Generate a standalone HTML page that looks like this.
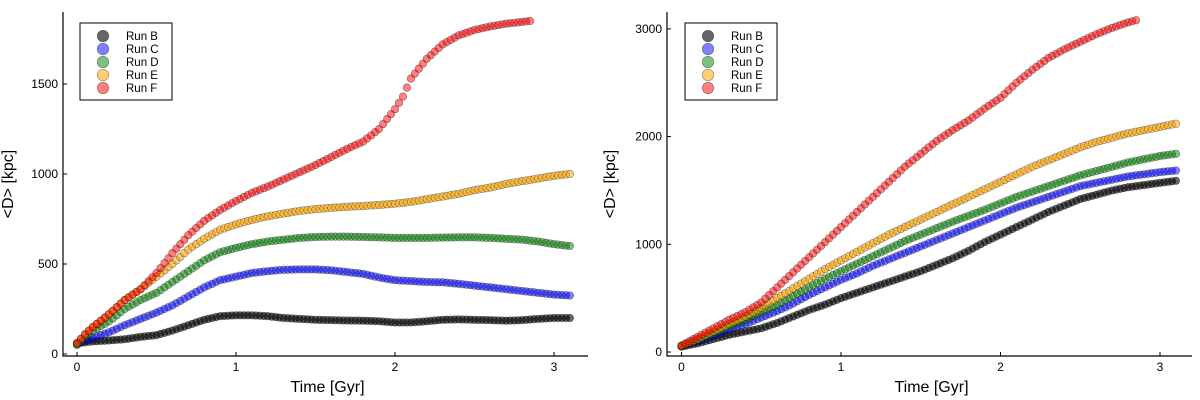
<!DOCTYPE html>
<html><head><meta charset="utf-8"><style>
html,body{margin:0;padding:0;background:#fff;}
svg{display:block;font-family:"Liberation Sans","DejaVu Sans",sans-serif;}
</style></head><body>
<svg id="root" width="1200" height="400" viewBox="0 0 1200 400" xmlns="http://www.w3.org/2000/svg"></svg>
<script>
const timesStd = [0,0.1,0.2,0.3,0.4,0.5,0.6,0.7,0.8,0.9,1.0,1.1,1.2,1.3,1.4,1.5,1.6,1.7,1.8,1.9,2.0,2.1,2.2,2.3,2.4,2.5,2.6,2.7,2.8,2.9,3.0,3.1];
const timesF = [0,0.05,0.1,0.2,0.3,0.4,0.5,0.6,0.7,0.8,0.9,1.0,1.1,1.2,1.3,1.4,1.5,1.6,1.7,1.8,1.9,2.0,2.05,2.1,2.2,2.3,2.4,2.5,2.6,2.7,2.8,2.85];
const seriesNames = ["Run B","Run C","Run D","Run E","Run F"];
// Left panel
const leftB = [60,70,75,82,95,105,130,160,190,210,215,215,210,200,195,190,188,186,185,182,175,175,182,190,192,190,188,185,188,195,200,200];
const leftC = [55,90,120,160,195,230,270,320,370,410,430,450,460,468,470,470,465,455,445,425,410,405,400,398,390,380,370,360,350,340,330,325];
const leftD = [50,130,180,250,300,340,400,460,520,565,590,610,625,635,645,650,652,652,650,648,645,645,645,647,648,648,645,640,635,625,610,600];
const leftE = [60,150,220,300,360,430,500,580,640,690,720,745,765,780,795,805,812,818,822,828,835,845,860,875,890,910,925,945,960,975,990,1000];
const leftF = [60,110,150,220,300,360,450,560,660,740,800,850,895,930,970,1010,1050,1095,1140,1180,1250,1360,1430,1530,1640,1720,1770,1800,1820,1835,1845,1850];
// Right panel
const rightB = [50,80,120,160,190,220,270,330,390,440,500,550,600,650,700,750,810,870,940,1020,1090,1160,1230,1300,1360,1420,1460,1500,1530,1550,1570,1590];
const rightC = [55,100,150,210,260,320,380,450,530,600,670,730,800,860,920,980,1040,1100,1160,1220,1280,1340,1390,1440,1490,1540,1570,1600,1630,1650,1670,1685];
const rightD = [55,110,170,240,300,370,440,520,600,680,750,820,890,960,1030,1090,1150,1210,1265,1320,1380,1440,1490,1540,1590,1640,1680,1720,1760,1790,1820,1840];
const rightE = [60,120,190,260,330,410,500,590,680,770,850,930,1010,1090,1160,1230,1300,1370,1440,1510,1580,1650,1720,1780,1840,1900,1950,1990,2030,2060,2090,2120];
const rightF = [60,140,220,300,370,460,600,740,880,1020,1160,1300,1440,1580,1720,1840,1960,2060,2150,2260,2360,2500,2620,2730,2810,2880,2950,3010,3060,3080];
const rightFTimes = [0,0.1,0.2,0.3,0.4,0.5,0.6,0.7,0.8,0.9,1.0,1.1,1.2,1.3,1.4,1.5,1.6,1.7,1.8,1.9,2.0,2.1,2.2,2.3,2.4,2.5,2.6,2.7,2.8,2.85];
const xTicks = [0,1,2,3];
const leftYTicks = [0,500,1000,1500];
const rightYTicks = [0,1000,2000,3000];

const NS="http://www.w3.org/2000/svg";
const root=document.getElementById('root');
const fills=["rgba(0,0,0,0.6)","rgba(0,0,255,0.5)","rgba(0,128,0,0.5)","rgba(255,165,0,0.55)","rgba(255,0,0,0.5)"];
function mk(tag,attrs,parent){const e=document.createElementNS(NS,tag);for(const k in attrs)e.setAttribute(k,attrs[k]);(parent||root).appendChild(e);return e;}
function interp(ts,vs,t){for(let i=0;i<ts.length-1;i++){if(t>=ts[i]-1e-9&&t<=ts[i+1]+1e-9){const f=(t-ts[i])/(ts[i+1]-ts[i]);return vs[i]+f*(vs[i+1]-vs[i]);}}return vs[vs.length-1];}

function panel(cfg){
  const g=mk('g',{});
  
  
  const X=t=>cfg.x0+t*cfg.xs;
  const Y=v=>cfg.y0-v*cfg.ys;
  const ax=mk('path',{d:`M${cfg.axL},${cfg.axT} V${cfg.axB} H${cfg.axR}`,stroke:'#000','stroke-width':1.2,fill:'none'},g);
  
  
  xTicks.forEach(t=>{
    const tk=mk('line',{x1:X(t),x2:X(t),y1:cfg.axB,y2:cfg.axB-4,stroke:'#000','stroke-width':1},g);
    
    
    const tl=mk('text',{x:X(t),y:cfg.axB+15,'text-anchor':'middle','font-size':12},g);
    tl.textContent=t;
    
    
  });
  cfg.yTicks.forEach(v=>{
    const tk=mk('line',{x1:cfg.axL,x2:cfg.axL+4,y1:Y(v),y2:Y(v),stroke:'#000','stroke-width':1},g);
    
    
    const tl=mk('text',{x:cfg.axL-5,y:Y(v)+4,'text-anchor':'end','font-size':12},g);
    tl.textContent=v;
    
    
  });
  const xt=mk('text',{x:(cfg.axL+cfg.axR)/2+2,y:392,'text-anchor':'middle','font-size':16},g);
  xt.textContent='Time [Gyr]';
  
  
  const yt=mk('text',{x:0,y:0,'text-anchor':'middle','font-size':16,transform:`translate(${cfg.axL-cfg.ytOff},${(cfg.axT+cfg.axB)/2}) rotate(-90)`},g);
  yt.textContent='<D> [kpc]';
  
  
  cfg.series.forEach((s,si)=>{
    const sg=mk('g',{},g);
    
    
    const tEnd=s.t[s.t.length-1];
    const n=Math.round(tEnd/0.025);
    for(let i=0;i<=n;i++){
      const t=Math.min(i*0.025,tEnd);
      const v=interp(s.t,s.v,t);
      const c=mk('circle',{cx:X(t),cy:Y(v),r:3.8,fill:fills[si],stroke:'rgba(0,0,0,0.45)','stroke-width':0.6},sg);
      
      
    }
  });
  const lg=mk('g',{},g);
  
  
  mk('rect',{x:cfg.lgX,y:23,width:92,height:77,fill:'#fff',stroke:'#000','stroke-width':1},lg);
  seriesNames.forEach((nm,i)=>{
    const e=mk('g',{},lg);
    
    
    mk('circle',{cx:cfg.lgX+23,cy:36+i*13,r:5.8,fill:fills[i],stroke:'rgba(0,0,0,0.45)','stroke-width':0.6},e);
    const tx=mk('text',{x:cfg.lgX+46,y:40+i*13,'font-size':11.5},e);
    tx.textContent=nm;
  });
}

panel({name:'left-chart',x0:77,xs:159,y0:354,ys:0.18,axL:63,axT:12,axB:356,axR:588,yTicks:leftYTicks,ytOff:50,lgX:80,
  series:[{t:timesStd,v:leftB},{t:timesStd,v:leftC},{t:timesStd,v:leftD},{t:timesStd,v:leftE},{t:timesF,v:leftF}]});
panel({name:'right-chart',x0:681.5,xs:159.5,y0:352,ys:0.1077,axL:667,axT:12,axB:356,axR:1192,yTicks:rightYTicks,ytOff:52,lgX:685,
  series:[{t:timesStd,v:rightB},{t:timesStd,v:rightC},{t:timesStd,v:rightD},{t:timesStd,v:rightE},{t:rightFTimes,v:rightF}]});
</script>
</body></html>
